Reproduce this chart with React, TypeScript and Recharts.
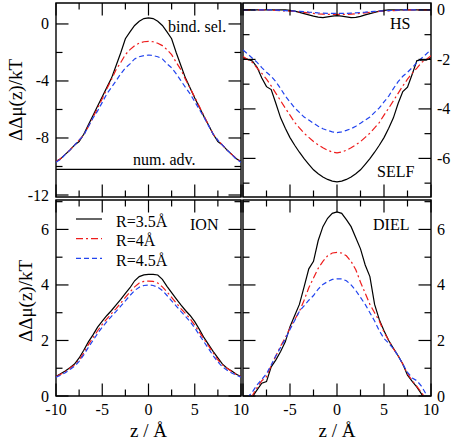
import React from 'react';
import { LineChart, Line, XAxis, YAxis, ReferenceArea, ReferenceLine, Legend } from 'recharts';

const W = 452;
const H = 444;
const FONT = 'Liberation Serif';

// ---------- data ----------
const Z = [-10, -9.5, -9, -8.5, -8, -7.5, -7, -6.5, -6, -5.5, -5, -4.5, -4, -3.5, -3, -2.5, -2, -1.5, -1, -0.5, 0,
  0.5, 1, 1.5, 2, 2.5, 3, 3.5, 4, 4.5, 5, 5.5, 6, 6.5, 7, 7.5, 8, 8.5, 9, 9.5, 10];

const X_TICKS = [-10, -7.5, -5, -2.5, 0, 2.5, 5, 7.5, 10];
const X_LABELS_LEFT = [-10, -5, 0, 5, 10];
const X_LABELS_RIGHT = [-5, 0, 5, 10];

const SERIES_NAMES = ['R=3.5Å', 'R=4Å', 'R=4.5Å'];
const SERIES_COLORS = ['#000000', '#ee1c1c', '#2244ee'];
const SERIES_DASH = [undefined, '7 3 2 3', '5 3'];

// top-left: binding selectivity
const BIND_R35 = [-9.65, -9.45, -9.15, -8.85, -8.5, -8.25, -7.74, -7.08, -6.42, -5.76, -5.1, -4.45, -3.8, -2.92, -2.02, -1.04, -0.56, -0.11, 0.19, 0.38, 0.43,
  0.38, 0.19, -0.11, -0.56, -1.04, -2.02, -2.92, -3.8, -4.5, -5.2, -5.85, -6.5, -7.1, -7.74, -8.25, -8.5, -8.85, -9.15, -9.45, -9.65];
const BIND_R40 = [-9.65, -9.45, -9.15, -8.85, -8.5, -8.15, -7.8, -7.2, -6.55, -5.9, -5.25, -4.55, -3.9, -3.2, -2.7, -2.15, -1.8, -1.52, -1.35, -1.25, -1.22,
  -1.25, -1.35, -1.52, -1.8, -2.15, -2.7, -3.2, -3.9, -4.5, -5.15, -5.8, -6.45, -7.1, -7.75, -8.15, -8.5, -8.85, -9.15, -9.45, -9.65];
const BIND_R45 = [-9.7, -9.5, -9.15, -8.85, -8.5, -8.15, -7.8, -7.2, -6.6, -6.1, -5.5, -4.9, -4.45, -3.98, -3.5, -3.08, -2.8, -2.45, -2.3, -2.22, -2.18,
  -2.22, -2.3, -2.45, -2.8, -3.08, -3.5, -3.98, -4.45, -4.9, -5.45, -6.0, -6.55, -7.15, -7.75, -8.15, -8.5, -8.85, -9.15, -9.5, -9.7];
const NUM_ADV = -10.2;

// top-right: HS and SELF
const HS_R35 = [0, 0, 0, 0, 0, 0, 0, 0, 0, 0, -0.02, -0.05, -0.1, -0.15, -0.2, -0.25, -0.29, -0.31, -0.28, -0.25, -0.23,
  -0.25, -0.28, -0.31, -0.3, -0.26, -0.2, -0.15, -0.1, -0.05, -0.02, 0, 0, 0, 0, 0, 0, 0, 0, 0, 0];
const HS_R40 = [0, 0, 0, 0, 0, 0, -0.01, -0.02, -0.03, -0.04, -0.05, -0.06, -0.08, -0.1, -0.12, -0.14, -0.16, -0.17, -0.18, -0.18, -0.18,
  -0.18, -0.18, -0.17, -0.16, -0.14, -0.12, -0.1, -0.08, -0.06, -0.05, -0.04, -0.03, -0.02, -0.01, 0, 0, 0, 0, 0, 0];
const HS_R45 = [0, 0, 0, 0, 0, 0, 0, -0.01, -0.02, -0.03, -0.04, -0.05, -0.06, -0.07, -0.09, -0.1, -0.12, -0.13, -0.14, -0.14, -0.14,
  -0.14, -0.14, -0.13, -0.12, -0.1, -0.09, -0.07, -0.06, -0.05, -0.04, -0.03, -0.02, -0.01, 0, 0, 0, 0, 0, 0, 0];
const SELF_R35 = [-1.93, -2.0, -2.06, -2.32, -2.75, -3.1, -3.22, -3.78, -4.36, -4.78, -5.16, -5.47, -5.75, -6.01, -6.24, -6.46, -6.62, -6.75, -6.85, -6.92, -6.95,
  -6.92, -6.85, -6.75, -6.62, -6.46, -6.24, -6.01, -5.75, -5.47, -5.16, -4.78, -4.36, -3.78, -3.3, -3.12, -2.6, -2.05, -2.03, -2.03, -1.93];
const SELF_R40 = [-1.88, -2.0, -2.12, -2.35, -2.56, -2.8, -3.07, -3.37, -3.67, -3.97, -4.25, -4.55, -4.77, -4.98, -5.15, -5.32, -5.45, -5.57, -5.67, -5.74, -5.78,
  -5.74, -5.67, -5.57, -5.45, -5.32, -5.15, -4.98, -4.77, -4.55, -4.25, -3.97, -3.67, -3.37, -3.07, -2.8, -2.56, -2.35, -2.12, -2.0, -1.85];
const SELF_R45 = [-1.62, -1.78, -1.95, -2.12, -2.33, -2.52, -2.68, -2.9, -3.18, -3.48, -3.72, -3.96, -4.14, -4.33, -4.45, -4.58, -4.7, -4.8, -4.87, -4.93, -4.96,
  -4.93, -4.87, -4.8, -4.7, -4.58, -4.45, -4.33, -4.14, -3.96, -3.72, -3.48, -3.18, -2.9, -2.68, -2.52, -2.33, -2.12, -1.95, -1.78, -1.6];

// bottom-left: ION
const ION_R35 = [0.7, 0.8, 0.9, 1.02, 1.15, 1.37, 1.65, 1.95, 2.2, 2.48, 2.7, 2.9, 3.08, 3.28, 3.48, 3.7, 3.9, 4.15, 4.3, 4.36, 4.38,
  4.38, 4.36, 4.2, 3.95, 3.72, 3.5, 3.28, 3.08, 2.9, 2.68, 2.4, 2.1, 1.85, 1.6, 1.37, 1.15, 1.0, 0.9, 0.78, 0.7];
const ION_R40 = [0.7, 0.78, 0.88, 1.0, 1.12, 1.3, 1.55, 1.85, 2.1, 2.35, 2.58, 2.78, 2.97, 3.15, 3.35, 3.55, 3.75, 3.93, 4.07, 4.13, 4.14,
  4.13, 4.07, 3.93, 3.75, 3.55, 3.35, 3.15, 2.97, 2.78, 2.55, 2.3, 2.05, 1.8, 1.55, 1.3, 1.12, 1.0, 0.88, 0.78, 0.7];
const ION_R45 = [0.68, 0.75, 0.84, 0.95, 1.07, 1.25, 1.48, 1.75, 2.0, 2.25, 2.48, 2.68, 2.87, 3.05, 3.24, 3.43, 3.62, 3.8, 3.92, 3.98, 4.0,
  3.98, 3.92, 3.8, 3.62, 3.43, 3.24, 3.05, 2.87, 2.68, 2.45, 2.2, 1.95, 1.7, 1.45, 1.23, 1.05, 0.93, 0.83, 0.75, 0.68];

// bottom-right: DIEL
const DIEL_R35 = [-0.55, -0.3, -0.03, 0.22, 0.46, 0.52, 1.05, 1.3, 1.6, 1.95, 2.5, 2.9, 3.3, 3.93, 4.58, 4.85, 5.6, 6.1, 6.4, 6.58, 6.63,
  6.58, 6.35, 6.1, 5.7, 5.3, 4.72, 4.3, 3.3, 2.75, 2.35, 2.0, 1.72, 1.45, 1.15, 0.75, 0.53, 0.32, 0.07, -0.2, -0.45];
const DIEL_R40 = [-0.5, -0.25, 0.02, 0.3, 0.55, 0.7, 1.1, 1.45, 1.8, 2.1, 2.45, 2.75, 3.05, 3.45, 3.9, 4.25, 4.6, 4.85, 5.05, 5.15, 5.17,
  5.15, 5.05, 4.85, 4.55, 4.1, 3.7, 3.3, 3.0, 2.7, 2.3, 2.0, 1.7, 1.45, 1.15, 0.8, 0.55, 0.35, 0.12, -0.12, -0.4];
const DIEL_R45 = [-0.3, -0.05, 0.15, 0.4, 0.6, 0.8, 1.12, 1.45, 1.75, 2.05, 2.4, 2.72, 3.05, 3.25, 3.45, 3.62, 3.85, 4.02, 4.12, 4.2, 4.22,
  4.22, 4.15, 4.0, 3.8, 3.55, 3.3, 3.0, 2.7, 2.35, 2.07, 1.9, 1.7, 1.45, 1.15, 0.85, 0.65, 0.55, 0.35, 0.05, -0.2];

// axes
const TL_DOMAIN = [-12.14, 1.47];
const TL_TICKS = [-12, -10, -8, -6, -4, -2, 0];
const TL_MAJORS = [-12, -8, -4, 0];
const TR_DOMAIN = [-7.56, 0.28];
const TR_TICKS = [-7, -6, -5, -4, -3, -2, -1, 0];
const TR_MAJORS = [-6, -4, -2, 0];
const B_DOMAIN = [0, 7.06];
const B_TICKS = [0, 1, 2, 3, 4, 5, 6, 7];
const B_MAJORS = [0, 2, 4, 6];

// ---------- helpers ----------
type Box = { l: number; t: number; r: number; b: number };
const BOX_TL: Box = { l: 56, t: 3, r: 241, b: 197 };
const BOX_TR: Box = { l: 243, t: 3, r: 431, b: 197 };
const BOX_BL: Box = { l: 56, t: 200, r: 241, b: 396 };
const BOX_BR: Box = { l: 243, t: 200, r: 431, b: 396 };

const MAJOR = 12.5;
const MINOR = 6.5;

function makeYTick(box: Box, majors: number[], side: 'left' | 'right') {
  return (props: any) => {
    const y = props.y;
    const v = props.payload.value;
    const major = majors.includes(v);
    const len = major ? MAJOR : MINOR;
    return (
      <g>
        <line x1={box.l} x2={box.l + len} y1={y} y2={y} stroke="#000" strokeWidth={1.2} />
        <line x1={box.r} x2={box.r - len} y1={y} y2={y} stroke="#000" strokeWidth={1.2} />
        {major && (
          <text
            x={side === 'left' ? box.l - 7 : box.r + 6}
            y={y + 5.5}
            textAnchor={side === 'left' ? 'end' : 'start'}
            fontSize={16}
            fontFamily={FONT}
            fill="#000"
          >
            {String(v)}
          </text>
        )}
      </g>
    );
  };
}

function makeXTick(box: Box, labels: number[]) {
  return (props: any) => {
    const x = props.x;
    const v = props.payload.value;
    const major = v % 5 === 0;
    const len = major ? MAJOR : MINOR;
    return (
      <g>
        <line x1={x} x2={x} y1={box.b} y2={box.b - len} stroke="#000" strokeWidth={1.2} />
        <line x1={x} x2={x} y1={box.t} y2={box.t + len} stroke="#000" strokeWidth={1.2} />
        {labels.includes(v) && (
          <text x={x} y={box.b + 19} textAnchor="middle" fontSize={16} fontFamily={FONT} fill="#000">
            {String(v)}
          </text>
        )}
      </g>
    );
  };
}

type LineSpec = { key: string; idx: number };

function Panel(props: {
  box: Box;
  data: any[];
  lines: LineSpec[];
  yDomain: number[];
  yTicks: number[];
  yMajors: number[];
  ySide: 'left' | 'right';
  xLabels: number[];
  children?: React.ReactNode;
}) {
  const { box, data, lines, yDomain, yTicks, yMajors, ySide, xLabels, children } = props;
  return (
    <div style={{ position: 'absolute', left: 0, top: 0 }}>
      <LineChart
        width={W}
        height={H}
        data={data}
        margin={{ top: box.t, left: box.l - 1, right: W - box.r, bottom: H - box.b - 1 }}
      >
        <XAxis
          type="number"
          dataKey="z"
          domain={[-10, 10]}
          ticks={X_TICKS}
          interval={0}
          allowDataOverflow
          height={1}
          axisLine={false}
          tickLine={false}
          tickSize={0}
          tickMargin={0}
          tick={makeXTick(box, xLabels)}
        />
        <YAxis
          type="number"
          domain={yDomain}
          ticks={yTicks}
          interval={0}
          allowDataOverflow
          width={1}
          axisLine={false}
          tickLine={false}
          tickSize={0}
          tickMargin={0}
          tick={makeYTick(box, yMajors, ySide)}
        />
        <ReferenceArea
          x1={-10}
          x2={10}
          y1={yDomain[0]}
          y2={yDomain[1]}
          fill="none"
          fillOpacity={0}
          stroke="#000"
          strokeWidth={1.4}
          ifOverflow="visible"
        />
        {children}
        {lines.map((l) => (
          <Line
            key={l.key}
            dataKey={l.key}
            name={SERIES_NAMES[l.idx]}
            type="linear"
            stroke={SERIES_COLORS[l.idx]}
            strokeDasharray={SERIES_DASH[l.idx]}
            strokeWidth={1.2}
            dot={false}
            activeDot={false}
            isAnimationActive={false}
          />
        ))}
      </LineChart>
    </div>
  );
}

const renderLegend = () => (
  <svg width={130} height={60} style={{ display: 'block', overflow: 'visible' }}>
    {SERIES_NAMES.map((name, i) => {
      const y = 9 + i * 19.7;
      return (
        <g key={i}>
          <line x1={6} x2={32} y1={y} y2={y} stroke={SERIES_COLORS[i]} strokeDasharray={SERIES_DASH[i]} strokeWidth={1.2} />
          <text x={46} y={y + 7.5} fontSize={16} fontFamily={FONT} fill="#000">
            {name}
          </text>
        </g>
      );
    })}
  </svg>
);

const dataTL = Z.map((z, i) => ({ z, a: BIND_R35[i], b: BIND_R40[i], c: BIND_R45[i] }));
const dataTR = Z.map((z, i) => ({
  z,
  h0: HS_R35[i], h1: HS_R40[i], h2: HS_R45[i],
  s0: SELF_R35[i], s1: SELF_R40[i], s2: SELF_R45[i],
}));
const dataBL = Z.map((z, i) => ({ z, a: ION_R35[i], b: ION_R40[i], c: ION_R45[i] }));
const dataBR = Z.map((z, i) => ({ z, a: DIEL_R35[i], b: DIEL_R40[i], c: DIEL_R45[i] }));

const ABC: LineSpec[] = [{ key: 'a', idx: 0 }, { key: 'b', idx: 1 }, { key: 'c', idx: 2 }];
const TR_LINES: LineSpec[] = [
  { key: 'h0', idx: 0 }, { key: 'h1', idx: 1 }, { key: 'h2', idx: 2 },
  { key: 's0', idx: 0 }, { key: 's1', idx: 1 }, { key: 's2', idx: 2 },
];

export default function App() {
  const t = { fontFamily: FONT, fill: '#000' } as const;
  return (
    <div style={{ position: 'absolute', left: 0, top: 0, width: W, height: H, background: '#fff' }}>
      <Panel box={BOX_TL} data={dataTL} lines={ABC} yDomain={TL_DOMAIN} yTicks={TL_TICKS} yMajors={TL_MAJORS} ySide="left" xLabels={[]}>
        <ReferenceLine y={NUM_ADV} stroke="#000" strokeWidth={1.2} />
      </Panel>
      <Panel box={BOX_TR} data={dataTR} lines={TR_LINES} yDomain={TR_DOMAIN} yTicks={TR_TICKS} yMajors={TR_MAJORS} ySide="right" xLabels={[]} />
      <Panel box={BOX_BL} data={dataBL} lines={ABC} yDomain={B_DOMAIN} yTicks={B_TICKS} yMajors={B_MAJORS} ySide="left" xLabels={X_LABELS_LEFT}>
        <Legend
          layout="vertical"
          align="center"
          verticalAlign="middle"
          content={renderLegend}
          wrapperStyle={{ left: 70, top: 210, width: 130, height: 60 }}
        />
      </Panel>
      <Panel box={BOX_BR} data={dataBR} lines={ABC} yDomain={B_DOMAIN} yTicks={B_TICKS} yMajors={B_MAJORS} ySide="right" xLabels={X_LABELS_RIGHT} />
      <svg width={W} height={H} style={{ position: 'absolute', left: 0, top: 0, pointerEvents: 'none' }}>
        <text transform="translate(22,100) rotate(-90)" textAnchor="middle" fontSize={19} {...t}>ΔΔμ(z)/kT</text>
        <text transform="translate(32,301) rotate(-90)" textAnchor="middle" fontSize={19} {...t}>ΔΔμ(z)/kT</text>
        <text x={148.5} y={437} textAnchor="middle" fontSize={19} {...t}>z / Å</text>
        <text x={337} y={437} textAnchor="middle" fontSize={19} {...t}>z / Å</text>
        <text x={168} y={32} fontSize={16} {...t}>bind. sel.</text>
        <text x={133} y={165} fontSize={16} {...t}>num. adv.</text>
        <text x={390} y={29} fontSize={16} {...t}>HS</text>
        <text x={377} y={177} fontSize={16} {...t}>SELF</text>
        <text x={190} y={230} fontSize={16} {...t}>ION</text>
        <text x={373} y={230} fontSize={16} {...t}>DIEL</text>
      </svg>
    </div>
  );
}
